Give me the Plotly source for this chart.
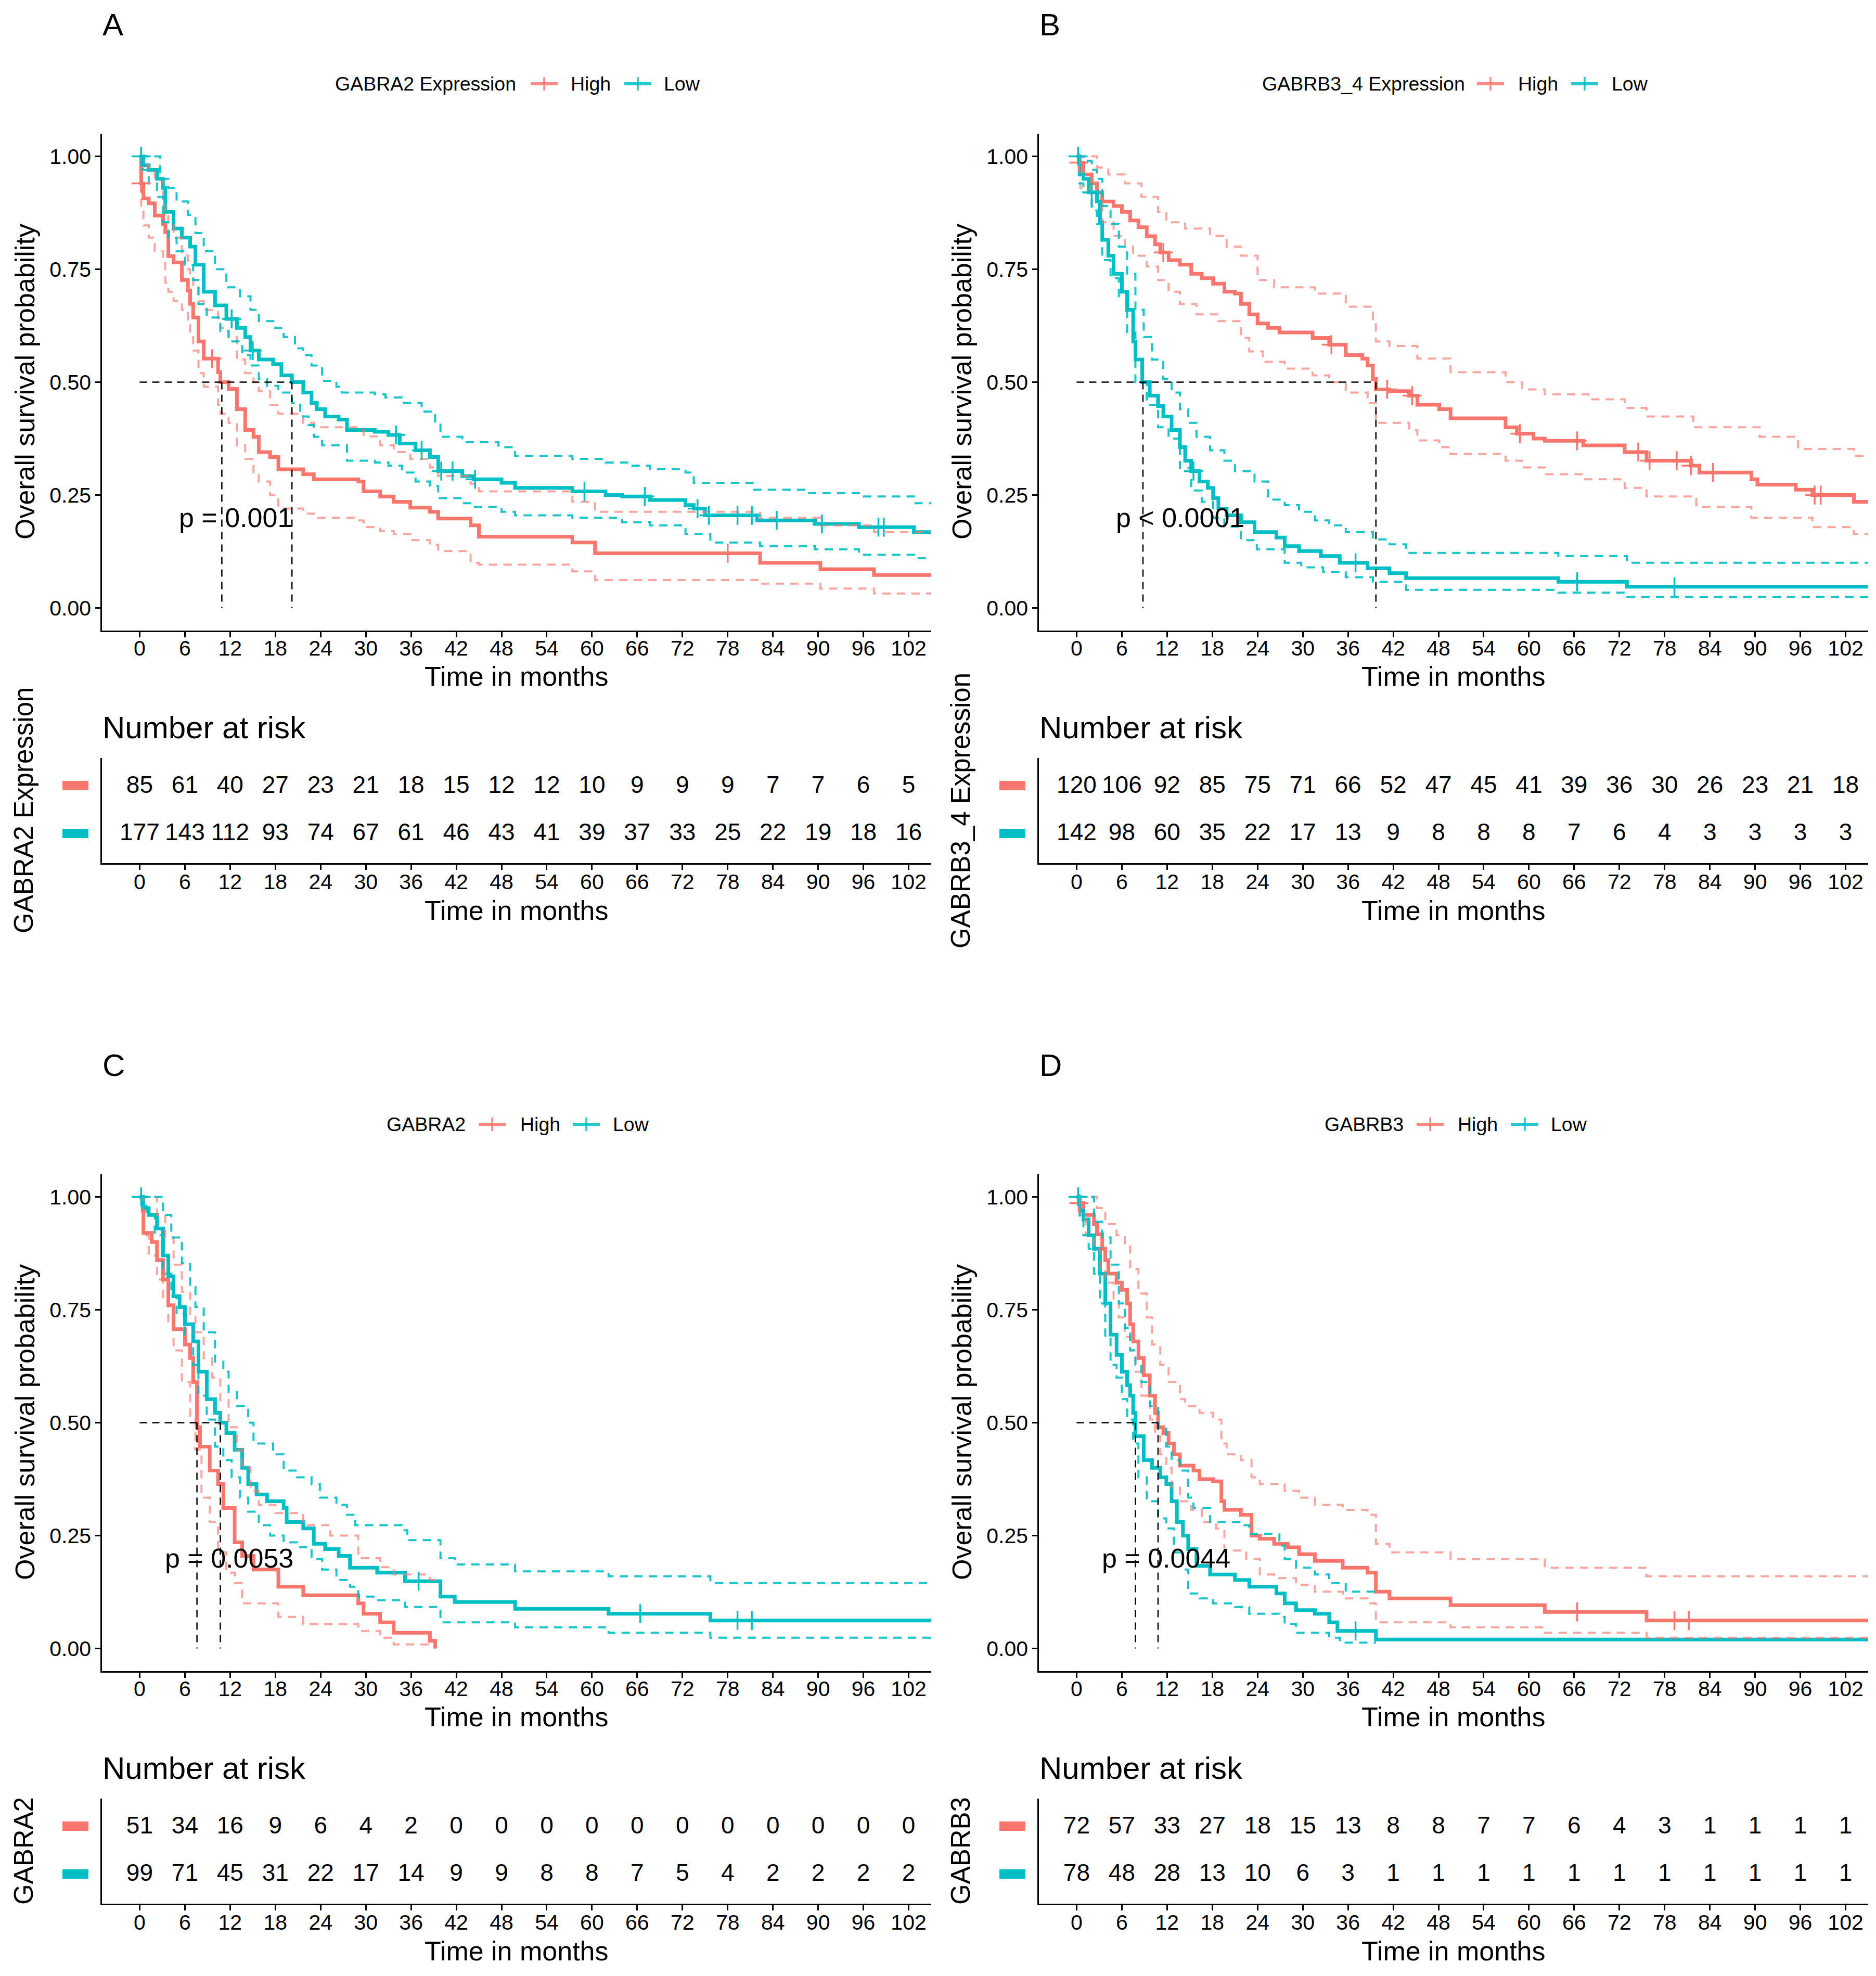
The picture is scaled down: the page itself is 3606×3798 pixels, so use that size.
import plotly.graph_objects as go

W, H = 3606, 3798
RED = "#F8766D"
BLUE = "#00BFC4"
RED_CI = "rgba(248,118,109,0.65)"
BLUE_CI = "rgba(0,191,196,0.9)"
FONT = "Liberation Sans, Arial, Helvetica, sans-serif"
DX, DY = -9, -7  # global placement correction (pixels)

X_TICKS = list(range(0, 103, 6))
Y_TICKS = [0, 0.25, 0.5, 0.75, 1.0]
Y_TICKTEXT = ["0.00", "0.25", "0.50", "0.75", "1.00"]
RISK_TIMES = list(range(0, 103, 6))

# ---------------- Panel A : GABRA2 Expression ----------------
A_high_t = [0, 0.2, 0.5, 1.2, 2.0, 3.1, 3.4, 3.8, 4.5, 5.6, 6.4, 6.7, 7.1, 7.8, 8.5, 10.4, 10.7, 11.8, 12.9, 14.0,
            15.1, 15.8, 17.3, 18.4, 21.7, 23.1, 29.0, 29.7, 31.9, 33.7, 35.9, 38.5, 39.6, 43.9, 45.0, 57.4, 60.4,
            82.3, 90.3, 97.4, 105]
A_high_s = [1.0, 0.94, 0.907, 0.896, 0.869, 0.85, 0.832, 0.779, 0.765, 0.726, 0.703, 0.673, 0.643, 0.59, 0.552,
            0.522, 0.50, 0.485, 0.44, 0.394, 0.379, 0.345, 0.334, 0.307, 0.296, 0.285, 0.28, 0.258, 0.247, 0.235,
            0.222, 0.213, 0.198, 0.183, 0.158, 0.145, 0.121, 0.10, 0.086, 0.073, 0.073]
A_high_up_t = A_high_t
A_high_up_s = [1.0, 0.99, 0.98, 0.97, 0.95, 0.90, 0.87, 0.85, 0.82, 0.78, 0.75, 0.73, 0.71, 0.68, 0.66, 0.63, 0.62,
               0.60, 0.55, 0.52, 0.50, 0.48, 0.45, 0.43, 0.41, 0.40, 0.394, 0.38, 0.36, 0.345, 0.33, 0.311, 0.292,
               0.275, 0.258, 0.235, 0.213, 0.20, 0.183, 0.168, 0.168]
A_high_lo_t = A_high_t
A_high_lo_s = [1.0, 0.88, 0.847, 0.82, 0.79, 0.77, 0.72, 0.70, 0.68, 0.66, 0.63, 0.60, 0.57, 0.52, 0.49, 0.45, 0.43,
               0.41, 0.36, 0.33, 0.30, 0.28, 0.25, 0.22, 0.209, 0.20, 0.194, 0.179, 0.17, 0.164, 0.15, 0.14, 0.126,
               0.10, 0.096, 0.081, 0.062, 0.054, 0.043, 0.032, 0.032]
A_low_t = [0, 0.5, 1.2, 2.3, 3.1, 3.4, 4.5, 5.6, 6.7, 7.4, 8.5, 10.0, 11.5, 12.9, 14.0, 14.7, 15.8, 17.7, 18.8, 20.2,
           21.7, 22.8, 23.5, 24.6, 26.4, 27.5, 31.2, 33.0, 34.5, 36.6, 38.5, 39.6, 42.8, 44.3, 48.0, 49.8, 57.4, 61.8,
           64.0, 67.7, 72.4, 73.5, 75.0, 81.9, 89.6, 95.4, 102.7, 105]
A_low_s = [1.0, 0.98, 0.97, 0.95, 0.93, 0.877, 0.84, 0.82, 0.80, 0.76, 0.70, 0.67, 0.64, 0.62, 0.60, 0.57, 0.55, 0.54,
           0.515, 0.50, 0.477, 0.454, 0.44, 0.424, 0.417, 0.394, 0.39, 0.383, 0.364, 0.349, 0.334, 0.303, 0.292,
           0.285, 0.277, 0.266, 0.258, 0.25, 0.247, 0.239, 0.228, 0.22, 0.205, 0.194, 0.186, 0.179, 0.168, 0.168]
A_low_up_t = [0, 2.0, 2.7, 3.8, 4.9, 6.4, 7.4, 8.5, 10.0, 11.5, 13.3, 14.7, 15.8, 18.0, 19.1, 20.6, 21.7, 22.8, 24.2,
              26.1, 26.8, 31.2, 32.6, 34.8, 37.4, 39.2, 39.9, 42.8, 47.6, 49.8, 57.4, 61.8, 64.7, 67.7, 72.4, 73.5,
              81.5, 88.8, 95.4, 102.7, 105]
A_low_up_s = [1.0, 1.0, 0.95, 0.93, 0.90, 0.87, 0.83, 0.79, 0.75, 0.71, 0.69, 0.66, 0.635, 0.62, 0.60, 0.575, 0.56,
              0.537, 0.503, 0.49, 0.477, 0.473, 0.466, 0.454, 0.435, 0.41, 0.379, 0.367, 0.356, 0.337, 0.33, 0.322,
              0.315, 0.307, 0.30, 0.277, 0.262, 0.254, 0.247, 0.232, 0.232]
A_low_lo_t = [0, 0.4, 1.2, 2.3, 3.1, 3.8, 4.9, 6.0, 7.1, 7.8, 8.9, 10.7, 11.8, 13.6, 14.7, 15.8, 16.9, 18.4, 20.2,
              21.3, 22.4, 23.1, 24.2, 27.5, 31.2, 33.0, 34.8, 36.6, 38.5, 39.6, 42.8, 44.3, 48.0, 49.8, 57.4, 64.0,
              67.7, 72.4, 75.7, 82.3, 89.6, 95.4, 102.7, 105]
A_low_lo_s = [1.0, 0.97, 0.94, 0.91, 0.854, 0.82, 0.79, 0.76, 0.726, 0.673, 0.643, 0.613, 0.59, 0.56, 0.537, 0.507,
              0.492, 0.477, 0.454, 0.424, 0.405, 0.379, 0.36, 0.326, 0.322, 0.315, 0.30, 0.28, 0.27, 0.243, 0.232,
              0.224, 0.213, 0.205, 0.20, 0.19, 0.183, 0.164, 0.145, 0.137, 0.13, 0.118, 0.11, 0.11]
A_high_cens = [0.2, 9.6, 78.0]
A_low_cens = [0.2, 12.2, 15.0, 34.0, 37.4, 40.0, 41.5, 44.5, 59.0, 67.0, 74.0, 75.5, 79.3, 81.2, 84.5, 90.5, 98.0, 98.7]
A_medians = [10.9, 20.2]
A_risk_high = [85, 61, 40, 27, 23, 21, 18, 15, 12, 12, 10, 9, 9, 9, 7, 7, 6, 5]
A_risk_low = [177, 143, 112, 93, 74, 67, 61, 46, 43, 41, 39, 37, 33, 25, 22, 19, 18, 16]

# ---------------- Panel B : GABRB3_4 Expression ----------------
B_high_t = [0, 0.3, 0.9, 2.0, 2.7, 3.4, 4.9, 6.0, 7.1, 8.2, 9.3, 10.4, 11.1, 12.2, 13.7, 15.2, 16.6, 18.1, 19.6, 21.0,
            21.8, 22.9, 24.0, 25.4, 26.9, 31.3, 33.5, 35.7, 37.9, 38.6, 39.3, 39.7, 41.5, 44.1, 45.2, 48.1, 49.6,
            56.9, 58.4, 60.6, 62.1, 67.2, 72.7, 75.6, 81.5, 82.6, 89.5, 90.3, 95.4, 97.6, 103.1, 105]
B_high_s = [1.0, 0.986, 0.96, 0.94, 0.92, 0.90, 0.89, 0.877, 0.858, 0.843, 0.823, 0.805, 0.787, 0.77, 0.76, 0.74,
            0.73, 0.718, 0.70, 0.696, 0.673, 0.65, 0.63, 0.62, 0.61, 0.598, 0.583, 0.56, 0.552, 0.537, 0.507, 0.484,
            0.48, 0.47, 0.45, 0.44, 0.42, 0.40, 0.386, 0.375, 0.37, 0.36, 0.345, 0.326, 0.315, 0.30, 0.285, 0.273,
            0.262, 0.25, 0.235, 0.235]
B_high_up_t = [0, 2.0, 2.7, 4.2, 6.4, 8.6, 10.8, 11.9, 14.4, 17.7, 19.9, 21.8, 24.0, 26.2, 31.6, 35.7, 39.3, 39.7,
               41.5, 45.2, 49.6, 56.9, 59.1, 62.1, 67.9, 72.7, 75.6, 81.8, 90.6, 95.7, 103.1, 105]
B_high_up_s = [1.0, 1.0, 0.975, 0.96, 0.94, 0.91, 0.877, 0.854, 0.84, 0.824, 0.80, 0.78, 0.726, 0.71, 0.696, 0.667,
               0.628, 0.59, 0.58, 0.552, 0.522, 0.50, 0.484, 0.473, 0.462, 0.443, 0.424, 0.40, 0.379, 0.352, 0.337,
               0.337]
B_high_lo_t = [0, 0.5, 2.0, 3.4, 4.9, 6.4, 7.5, 9.3, 10.8, 12.2, 13.7, 15.9, 18.8, 21.8, 22.9, 24.7, 27.6, 31.3, 33.5,
               35.7, 38.6, 39.7, 44.1, 45.2, 48.1, 49.6, 56.9, 59.1, 62.1, 67.2, 72.7, 75.6, 82.2, 89.5, 97.6, 103.1,
               105]
B_high_lo_s = [1.0, 0.93, 0.89, 0.854, 0.824, 0.80, 0.78, 0.756, 0.726, 0.70, 0.673, 0.65, 0.635, 0.598, 0.568,
               0.545, 0.53, 0.515, 0.50, 0.477, 0.454, 0.41, 0.394, 0.371, 0.356, 0.341, 0.326, 0.311, 0.296, 0.285,
               0.266, 0.247, 0.224, 0.20, 0.179, 0.164, 0.164]
B_low_t = [0, 0.4, 0.9, 1.6, 2.7, 3.1, 3.4, 4.2, 4.9, 6.0, 6.7, 7.5, 7.8, 8.7, 9.7, 10.8, 11.5, 12.6, 13.7, 14.4,
           15.2, 16.3, 17.4, 18.1, 18.8, 19.9, 21.8, 23.6, 26.5, 27.6, 29.5, 32.4, 34.9, 38.6, 41.5, 43.7, 63.9, 73.0,
           105]
B_low_s = [1.0, 0.96, 0.95, 0.92, 0.90, 0.854, 0.815, 0.78, 0.74, 0.70, 0.66, 0.59, 0.55, 0.50, 0.47, 0.447, 0.424,
           0.394, 0.356, 0.326, 0.303, 0.28, 0.266, 0.243, 0.22, 0.205, 0.19, 0.168, 0.156, 0.137, 0.126, 0.115,
           0.10, 0.088, 0.077, 0.066, 0.058, 0.047, 0.047]
B_low_up_t = [0, 0.9, 2.0, 2.7, 3.4, 4.5, 5.6, 6.7, 7.8, 8.9, 10.0, 11.5, 12.6, 13.7, 14.8, 15.9, 17.7, 19.6, 21.0,
              23.6, 25.4, 27.6, 29.5, 31.6, 33.5, 35.7, 39.3, 41.5, 43.7, 63.9, 73.0, 105]
B_low_up_s = [1.0, 0.99, 0.97, 0.95, 0.89, 0.85, 0.80, 0.74, 0.66, 0.60, 0.55, 0.507, 0.477, 0.44, 0.41, 0.379,
              0.349, 0.326, 0.303, 0.28, 0.24, 0.228, 0.213, 0.194, 0.183, 0.168, 0.152, 0.141, 0.122, 0.115, 0.10,
              0.10]
B_low_lo_t = [0, 0.4, 0.9, 2.0, 2.7, 3.4, 4.5, 5.6, 6.7, 7.8, 9.3, 10.8, 12.2, 13.7, 15.2, 16.6, 18.1, 19.6, 21.8,
              23.9, 27.6, 29.8, 32.7, 35.7, 39.3, 43.7, 63.9, 73.0, 105]
B_low_lo_s = [1.0, 0.94, 0.92, 0.88, 0.85, 0.77, 0.73, 0.69, 0.61, 0.50, 0.45, 0.40, 0.375, 0.31, 0.26, 0.235, 0.20,
              0.18, 0.15, 0.13, 0.10, 0.09, 0.08, 0.068, 0.058, 0.04, 0.034, 0.025, 0.025]
B_high_cens = [0.3, 11.5, 33.8, 41.2, 44.5, 58.8, 66.4, 74.5, 76.0, 79.6, 81.5, 84.4, 97.9, 98.7]
B_low_cens = [0.2, 2.0, 15.5, 37.0, 66.4, 79.3]
B_medians = [39.7, 8.8]
B_risk_high = [120, 106, 92, 85, 75, 71, 66, 52, 47, 45, 41, 39, 36, 30, 26, 23, 21, 18]
B_risk_low = [142, 98, 60, 35, 22, 17, 13, 9, 8, 8, 8, 7, 6, 4, 3, 3, 3, 3]

# ---------------- Panel C : GABRA2 ----------------
C_high_t = [0, 0.4, 0.5, 1.6, 2.3, 3.1, 3.8, 4.5, 6.0, 6.7, 7.1, 7.6, 8.0, 9.3, 10.4, 11.1, 12.6, 13.6, 15.1, 18.4,
            21.7, 29.0, 29.7, 31.9, 33.7, 38.5, 39.2]
C_high_s = [1.0, 0.97, 0.92, 0.90, 0.86, 0.817, 0.76, 0.707, 0.673, 0.643, 0.59, 0.49, 0.447, 0.394, 0.364, 0.311,
            0.235, 0.205, 0.175, 0.137, 0.118, 0.10, 0.077, 0.058, 0.035, 0.017, 0.0]
C_high_up_t = [0, 1.2, 2.3, 3.4, 4.5, 5.6, 6.7, 7.4, 8.5, 9.6, 10.7, 11.8, 12.9, 13.6, 14.7, 15.8, 18.0, 21.7, 25.3,
               29.0, 31.9, 33.7, 38.5, 39.2]
C_high_up_s = [1.0, 1.0, 0.96, 0.91, 0.85, 0.79, 0.74, 0.70, 0.643, 0.60, 0.55, 0.49, 0.44, 0.40, 0.349, 0.318,
               0.30, 0.273, 0.25, 0.20, 0.18, 0.164, 0.152, 0.152]
C_high_lo_t = [0, 0.5, 1.2, 2.3, 3.1, 3.8, 4.5, 5.6, 6.7, 7.4, 8.2, 9.3, 10.4, 11.5, 12.6, 13.6, 18.4, 21.7, 29.0,
               31.9, 33.7, 39.2]
C_high_lo_s = [1.0, 0.915, 0.87, 0.817, 0.77, 0.718, 0.66, 0.59, 0.515, 0.44, 0.334, 0.28, 0.213, 0.168, 0.145,
               0.10, 0.07, 0.054, 0.039, 0.024, 0.009, 0.0]
C_low_t = [0, 0.5, 1.2, 2.3, 3.1, 3.8, 4.5, 5.3, 6.0, 7.1, 7.8, 8.9, 10.0, 10.7, 11.5, 12.6, 13.6, 14.4, 15.5, 16.9,
           19.1, 19.5, 21.7, 23.1, 24.6, 26.4, 27.9, 31.5, 35.2, 39.9, 41.8, 49.8, 62.2, 75.7, 105]
C_low_s = [1.0, 0.975, 0.96, 0.93, 0.87, 0.824, 0.78, 0.756, 0.718, 0.68, 0.613, 0.552, 0.522, 0.50, 0.477, 0.44,
           0.40, 0.364, 0.341, 0.326, 0.311, 0.28, 0.266, 0.232, 0.22, 0.205, 0.179, 0.168, 0.149, 0.115, 0.103,
           0.088, 0.077, 0.062, 0.062]
C_low_up_t = [0, 2.0, 3.1, 4.2, 5.6, 6.7, 7.4, 8.5, 10.0, 11.1, 11.8, 12.9, 14.4, 15.1, 17.7, 19.1, 20.9, 22.8,
              23.9, 26.1, 27.5, 28.6, 34.8, 35.5, 39.9, 41.8, 49.8, 62.2, 75.7, 105]
C_low_up_s = [1.0, 1.0, 0.96, 0.91, 0.854, 0.80, 0.756, 0.70, 0.635, 0.613, 0.568, 0.537, 0.50, 0.454, 0.43, 0.394,
              0.379, 0.364, 0.334, 0.318, 0.296, 0.273, 0.262, 0.24, 0.20, 0.186, 0.171, 0.16, 0.145, 0.145]
C_low_lo_t = [0, 0.9, 2.0, 3.1, 4.2, 4.9, 6.0, 7.1, 7.8, 8.9, 10.0, 11.1, 12.2, 13.3, 14.4, 15.8, 17.3, 19.1, 20.9,
              22.8, 24.2, 26.1, 27.9, 29.0, 31.5, 35.2, 39.9, 49.8, 62.2, 75.7, 105]
C_low_lo_s = [1.0, 0.96, 0.915, 0.83, 0.78, 0.74, 0.695, 0.628, 0.56, 0.507, 0.447, 0.417, 0.379, 0.334, 0.303,
              0.273, 0.25, 0.235, 0.224, 0.198, 0.175, 0.152, 0.137, 0.115, 0.107, 0.092, 0.058, 0.047, 0.035, 0.024,
              0.024]
C_high_cens = []
C_low_cens = [0.2, 37.0, 66.4, 79.3, 81.2]
C_medians = [7.6, 10.7]
C_risk_high = [51, 34, 16, 9, 6, 4, 2, 0, 0, 0, 0, 0, 0, 0, 0, 0, 0, 0]
C_risk_low = [99, 71, 45, 31, 22, 17, 14, 9, 9, 8, 8, 7, 5, 4, 2, 2, 2, 2]

# ---------------- Panel D : GABRB3 ----------------
D_high_t = [0, 0.3, 0.9, 2.3, 2.7, 3.4, 3.8, 4.2, 5.3, 6.0, 6.7, 7.1, 7.5, 8.2, 8.9, 9.7, 10.4, 10.8, 11.5, 12.2,
            12.9, 13.7, 15.5, 16.3, 18.1, 19.2, 19.6, 21.8, 23.2, 24.3, 26.2, 28.0, 29.5, 31.6, 35.3, 38.6, 39.7,
            41.5, 49.6, 62.1, 75.6, 105]
D_high_s = [1.0, 0.986, 0.96, 0.94, 0.917, 0.885, 0.86, 0.83, 0.81, 0.794, 0.764, 0.718, 0.68, 0.643, 0.605, 0.56,
            0.522, 0.49, 0.477, 0.454, 0.43, 0.405, 0.394, 0.375, 0.37, 0.326, 0.307, 0.296, 0.25, 0.243, 0.232,
            0.224, 0.209, 0.194, 0.179, 0.168, 0.126, 0.111, 0.096, 0.081, 0.062, 0.062]
D_high_up_t = [0, 2.0, 2.7, 3.8, 5.3, 6.4, 7.1, 8.2, 9.3, 10.0, 11.1, 12.2, 13.7, 14.4, 16.3, 18.1, 19.2, 19.9,
               21.8, 23.2, 24.3, 27.6, 29.5, 31.6, 35.3, 38.6, 39.7, 41.5, 49.6, 62.1, 75.6, 105]
D_high_up_s = [1.0, 1.0, 0.975, 0.94, 0.915, 0.89, 0.84, 0.786, 0.733, 0.673, 0.628, 0.59, 0.552, 0.537, 0.522,
               0.507, 0.454, 0.43, 0.417, 0.379, 0.364, 0.349, 0.334, 0.318, 0.307, 0.296, 0.232, 0.213, 0.198,
               0.179, 0.16, 0.16]
D_high_lo_t = [0, 0.5, 1.2, 2.3, 3.1, 3.8, 4.9, 5.6, 6.4, 7.1, 7.8, 8.6, 9.7, 10.4, 11.1, 11.9, 12.6, 13.7, 15.2,
               16.6, 18.5, 19.6, 22.5, 24.3, 26.2, 29.1, 31.6, 35.3, 38.6, 39.7, 49.6, 62.1, 75.6, 105]
D_high_lo_s = [1.0, 0.95, 0.915, 0.885, 0.84, 0.81, 0.77, 0.733, 0.69, 0.66, 0.613, 0.56, 0.507, 0.47, 0.43, 0.40,
               0.356, 0.326, 0.307, 0.28, 0.266, 0.217, 0.198, 0.164, 0.156, 0.141, 0.126, 0.111, 0.10, 0.058, 0.047,
               0.035, 0.024, 0.024]
D_low_t = [0, 0.4, 0.9, 1.6, 2.3, 3.1, 3.8, 4.5, 5.3, 6.0, 6.7, 7.1, 7.5, 7.8, 8.9, 10.0, 11.1, 11.9, 12.6, 13.3,
           14.1, 14.8, 15.9, 17.7, 21.0, 22.9, 26.5, 27.6, 29.1, 31.6, 33.5, 34.6, 39.7, 105]
D_low_s = [1.0, 0.97, 0.95, 0.915, 0.885, 0.83, 0.764, 0.695, 0.65, 0.613, 0.583, 0.56, 0.522, 0.47, 0.417, 0.40,
           0.379, 0.364, 0.326, 0.28, 0.25, 0.22, 0.183, 0.164, 0.152, 0.137, 0.122, 0.10, 0.085, 0.077, 0.058,
           0.039, 0.02, 0.02]
D_low_up_t = [0, 1.2, 2.3, 3.4, 4.5, 5.6, 6.4, 7.1, 7.8, 8.6, 9.7, 10.8, 11.9, 12.6, 13.7, 14.8, 15.5, 17.7, 21.8,
              22.9, 26.9, 27.6, 29.1, 31.6, 33.5, 35.7, 39.7]
D_low_up_s = [1.0, 1.0, 0.945, 0.91, 0.85, 0.764, 0.71, 0.66, 0.628, 0.59, 0.537, 0.49, 0.447, 0.417, 0.394, 0.334,
              0.311, 0.28, 0.273, 0.254, 0.228, 0.198, 0.179, 0.164, 0.145, 0.126, 0.126]
D_low_lo_t = [0, 0.4, 0.9, 1.6, 2.3, 3.1, 3.8, 4.5, 5.3, 6.0, 6.7, 7.5, 8.2, 9.3, 10.8, 11.9, 12.9, 14.1, 14.8,
              16.3, 18.1, 21.0, 22.9, 26.9, 27.6, 29.1, 33.5, 34.9, 39.7]
D_low_lo_s = [1.0, 0.95, 0.915, 0.885, 0.83, 0.764, 0.69, 0.628, 0.60, 0.552, 0.507, 0.454, 0.379, 0.326, 0.288,
              0.266, 0.213, 0.175, 0.122, 0.111, 0.10, 0.092, 0.077, 0.07, 0.054, 0.035, 0.024, 0.013, 0.013]
D_high_cens = [0.3, 66.4, 79.3, 81.2]
D_low_cens = [0.2, 37.0]
D_medians = [10.8, 7.8]
D_risk_high = [72, 57, 33, 27, 18, 15, 13, 8, 8, 7, 7, 6, 4, 3, 1, 1, 1, 1]
D_risk_low = [78, 48, 28, 13, 10, 6, 3, 1, 1, 1, 1, 1, 1, 1, 1, 1, 1, 1]

# ---------------- panel descriptions (text + placement) ----------------
PANELS = [
    dict(label="A", ox=0, oy=0, legend_title="GABRA2 Expression", risk_title="GABRA2 Expression",
         pval="p = 0.001", pval_x=5.1,
         leg=[643, 1047, 1096, 1227, 1275],
         hi=(A_high_t, A_high_s), hi_up=(A_high_up_t, A_high_up_s), hi_lo=(A_high_lo_t, A_high_lo_s),
         lo=(A_low_t, A_low_s), lo_up=(A_low_up_t, A_low_up_s), lo_lo=(A_low_lo_t, A_low_lo_s),
         hi_c=A_high_cens, lo_c=A_low_cens, med=A_medians, rh=A_risk_high, rl=A_risk_low),
    dict(label="B", ox=1801, oy=0, legend_title="GABRB3_4 Expression", risk_title="GABRB3_4 Expression",
         pval="p < 0.0001", pval_x=5.1,
         leg=[624, 1065, 1116, 1246, 1296],
         hi=(B_high_t, B_high_s), hi_up=(B_high_up_t, B_high_up_s), hi_lo=(B_high_lo_t, B_high_lo_s),
         lo=(B_low_t, B_low_s), lo_up=(B_low_up_t, B_low_up_s), lo_lo=(B_low_lo_t, B_low_lo_s),
         hi_c=B_high_cens, lo_c=B_low_cens, med=B_medians, rh=B_risk_high, rl=B_risk_low),
    dict(label="C", ox=0, oy=2000, legend_title="GABRA2", risk_title="GABRA2",
         pval="p = 0.0053", pval_x=3.2,
         leg=[742, 947, 999, 1128, 1177],
         hi=(C_high_t, C_high_s), hi_up=(C_high_up_t, C_high_up_s), hi_lo=(C_high_lo_t, C_high_lo_s),
         lo=(C_low_t, C_low_s), lo_up=(C_low_up_t, C_low_up_s), lo_lo=(C_low_lo_t, C_low_lo_s),
         hi_c=C_high_cens, lo_c=C_low_cens, med=C_medians, rh=C_risk_high, rl=C_risk_low),
    dict(label="D", ox=1801, oy=2000, legend_title="GABRB3", risk_title="GABRB3",
         pval="p = 0.0044", pval_x=3.2,
         leg=[744, 949, 1000, 1131, 1179],
         hi=(D_high_t, D_high_s), hi_up=(D_high_up_t, D_high_up_s), hi_lo=(D_high_lo_t, D_high_lo_s),
         lo=(D_low_t, D_low_s), lo_up=(D_low_up_t, D_low_up_s), lo_lo=(D_low_lo_t, D_low_lo_s),
         hi_c=D_high_cens, lo_c=D_low_cens, med=D_medians, rh=D_risk_high, rl=D_risk_low),
]


def fx(px):
    return (px + DX) / W


def fy(py):
    return 1 - (py + DY) / H


def step_at(ts, ss, t):
    val = ss[0]
    for ti, si in zip(ts, ss):
        if ti <= t:
            val = si
        else:
            break
    return val


fig = go.Figure()
layout = dict(width=W, height=H, margin=dict(l=0, r=0, t=0, b=0), paper_bgcolor="white",
              plot_bgcolor="white", showlegend=False, font=dict(family=FONT, color="black"))
annotations = []
shapes = []

axis_common = dict(showline=True, linecolor="black", linewidth=2.5, ticks="outside", ticklen=10, tickwidth=2.5,
                   tickcolor="black", showgrid=False, zeroline=False, mirror=False, fixedrange=True,
                   tickfont=dict(size=41, color="black", family=FONT))

for k, p in enumerate(PANELS):
    ox, oy = p["ox"], p["oy"]
    nm, nr = 2 * k + 1, 2 * k + 2
    xm = "x" if nm == 1 else f"x{nm}"
    ym = "y" if nm == 1 else f"y{nm}"
    xr, yr = f"x{nr}", f"y{nr}"
    xdom = [fx(197 + ox), fx(1791 + ox)]
    layout["xaxis" if nm == 1 else f"xaxis{nm}"] = dict(axis_common, domain=xdom, anchor=ym, range=[-5, 105],
                                                        tickvals=X_TICKS, ticklabelstandoff=-14)
    layout["yaxis" if nm == 1 else f"yaxis{nm}"] = dict(axis_common, domain=[fy(1211 + oy), fy(256 + oy)],
                                                        anchor=xm, range=[-0.05, 1.05], tickvals=Y_TICKS,
                                                        ticktext=Y_TICKTEXT)
    layout[f"xaxis{nr}"] = dict(axis_common, domain=xdom, anchor=yr, range=[-5, 105], tickvals=X_TICKS,
                                ticklabelstandoff=-12)
    layout[f"yaxis{nr}"] = dict(axis_common, domain=[fy(1658 + oy), fy(1456 + oy)], anchor=xr, range=[0.4, 2.6],
                                showticklabels=False, ticks="")

    # survival curves
    for (ts, ss), col in ((p["hi"], RED), (p["lo"], BLUE)):
        fig.add_trace(go.Scatter(x=ts, y=ss, mode="lines", line=dict(color=col, width=7, shape="hv"),
                                 xaxis=xm, yaxis=ym, hoverinfo="skip"))
    # confidence limits
    for (ts, ss), col in ((p["hi_up"], RED_CI), (p["hi_lo"], RED_CI), (p["lo_up"], BLUE_CI), (p["lo_lo"], BLUE_CI)):
        fig.add_trace(go.Scatter(x=ts, y=ss, mode="lines",
                                 line=dict(color=col, width=4, shape="hv", dash="16px,12px"),
                                 xaxis=xm, yaxis=ym, hoverinfo="skip"))
    # censor marks
    for cens, (ts, ss), col in ((p["hi_c"], p["hi"], RED), (p["lo_c"], p["lo"], BLUE)):
        if cens:
            fig.add_trace(go.Scatter(x=cens, y=[step_at(ts, ss, c) for c in cens], mode="markers",
                                     marker=dict(symbol="cross-thin", size=26, color=col,
                                                 line=dict(color=col, width=3.5)),
                                     xaxis=xm, yaxis=ym, hoverinfo="skip", cliponaxis=False))
    # median lines
    m1, m2 = p["med"]
    fig.add_trace(go.Scatter(x=[0, max(m1, m2), None, m1, m1, None, m2, m2],
                             y=[0.5, 0.5, None, 0.5, 0, None, 0.5, 0], mode="lines",
                             line=dict(color="black", width=2.5, dash="14px,10px"),
                             xaxis=xm, yaxis=ym, hoverinfo="skip"))
    # risk table numbers
    fig.add_trace(go.Scatter(x=RISK_TIMES, y=[2] * len(RISK_TIMES), mode="text", text=[str(v) for v in p["rh"]],
                             textfont=dict(size=46, color="black", family=FONT), xaxis=xr, yaxis=yr,
                             hoverinfo="skip", cliponaxis=False))
    fig.add_trace(go.Scatter(x=RISK_TIMES, y=[1] * len(RISK_TIMES), mode="text", text=[str(v) for v in p["rl"]],
                             textfont=dict(size=46, color="black", family=FONT), xaxis=xr, yaxis=yr,
                             hoverinfo="skip", cliponaxis=False))

    # p-value
    annotations.append(dict(x=p["pval_x"], y=0.2, xref=xm, yref=ym, text=p["pval"], showarrow=False,
                            xanchor="left", yanchor="middle", font=dict(size=52, color="black", family=FONT)))
    # panel label
    annotations.append(dict(x=fx(196 + ox), y=fy(46 + oy), xref="paper", yref="paper", text=p["label"],
                            showarrow=False, xanchor="left", yanchor="middle",
                            font=dict(size=60, color="black", family=FONT)))
    # legend
    lt, k1, th, k2, tl = p["leg"]
    ly = 160 + oy
    for txt, xl in ((p["legend_title"], lt), ("High", th), ("Low", tl)):
        annotations.append(dict(x=fx(xl + ox), y=fy(ly), xref="paper", yref="paper", text=txt, showarrow=False,
                                xanchor="left", yanchor="middle", font=dict(size=37.5, color="black", family=FONT)))
    for kc, col in ((k1, RED), (k2, BLUE)):
        shapes.append(dict(type="line", xref="paper", yref="paper", x0=fx(kc + ox - 26), x1=fx(kc + ox + 26),
                           y0=fy(ly), y1=fy(ly), line=dict(color=col, width=6), opacity=0.85))
        shapes.append(dict(type="line", xref="paper", yref="paper", x0=fx(kc + ox), x1=fx(kc + ox),
                           y0=fy(ly - 13), y1=fy(ly + 13), line=dict(color=col, width=3.5), opacity=0.85))
    # axis titles
    annotations.append(dict(x=fx(49 + ox), y=fy(733 + oy), xref="paper", yref="paper",
                            text="Overall survival probability", showarrow=False, textangle=-90,
                            xanchor="center", yanchor="middle", font=dict(size=52, color="black", family=FONT)))
    annotations.append(dict(x=fx(994 + ox), y=fy(1299 + oy), xref="paper", yref="paper", text="Time in months",
                            showarrow=False, xanchor="center", yanchor="middle",
                            font=dict(size=52, color="black", family=FONT)))
    annotations.append(dict(x=fx(196 + ox), y=fy(1397 + oy), xref="paper", yref="paper", text="Number at risk",
                            showarrow=False, xanchor="left", yanchor="middle",
                            font=dict(size=60, color="black", family=FONT)))
    annotations.append(dict(x=fx(46 + ox), y=fy(1557 + oy), xref="paper", yref="paper", text=p["risk_title"],
                            showarrow=False, textangle=-90, xanchor="center", yanchor="middle",
                            font=dict(size=51, color="black", family=FONT)))
    annotations.append(dict(x=fx(994 + ox), y=fy(1749 + oy), xref="paper", yref="paper", text="Time in months",
                            showarrow=False, xanchor="center", yanchor="middle",
                            font=dict(size=52, color="black", family=FONT)))
    # strata colour keys in risk table
    for yc, col in ((1509 + oy, RED), (1601 + oy, BLUE)):
        shapes.append(dict(type="rect", xref="paper", yref="paper", x0=fx(121 + ox), x1=fx(171 + ox),
                           y0=fy(yc + 9), y1=fy(yc - 9), fillcolor=col, line=dict(width=0)))

layout["annotations"] = annotations
layout["shapes"] = shapes
fig.update_layout(**layout)
fig.write_html("out.html")
